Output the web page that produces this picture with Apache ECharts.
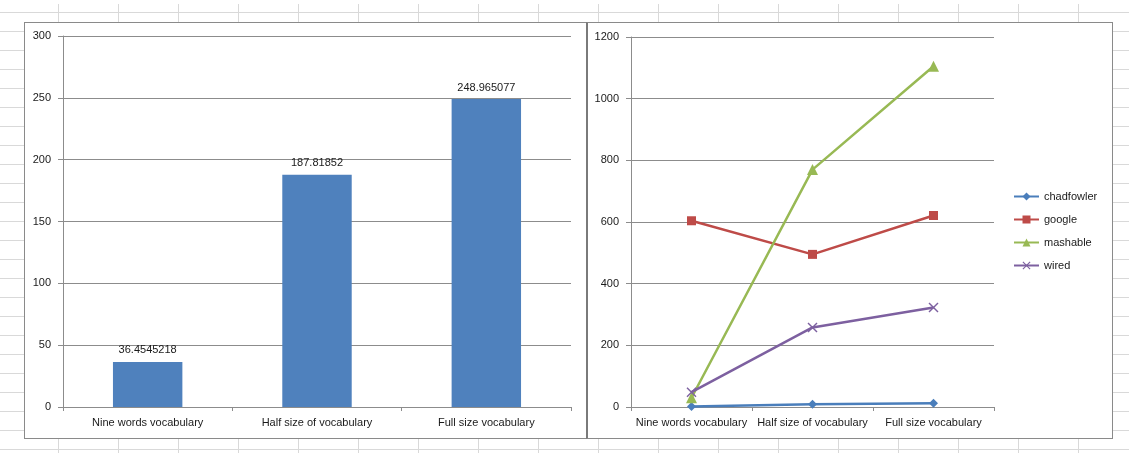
<!DOCTYPE html>
<html>
<head>
<meta charset="utf-8">
<script src="https://cdn.jsdelivr.net/npm/echarts@6/dist/echarts.min.js"></script>
<style>
  html, body { margin: 0; padding: 0; background: #fff; }
  #sheet { position: relative; width: 1129px; height: 453px; overflow: hidden; background: #fff; }
  #cols { position: absolute; left: 0; top: 4px; width: 1129px; height: 449px;
    background-image: linear-gradient(to right, #d9d9d9 1px, transparent 1px);
    background-size: 60px 100%; background-position: 58px 0; background-repeat: repeat-x; }
  #rows { position: absolute; left: 0; top: 12px; width: 1129px; height: 441px;
    background-image: linear-gradient(to bottom, #d9d9d9 1px, transparent 1px);
    background-size: 100% 19px; background-repeat: repeat-y; }
  .box { position: absolute; background: #fff; border: 1px solid #8a8a8a; box-sizing: border-box; }
  #box1 { left: 24px; top: 22px; width: 563px; height: 417px; }
  #box2 { left: 586px; top: 22px; width: 527px; height: 417px; border-left: 2px solid #7a7a7a; }
  #chart { position: absolute; left: 0; top: 0; width: 1129px; height: 453px; }
</style>
</head>
<body>
<div id="sheet">
  <div id="cols"></div>
  <div id="rows"></div>
  <div class="box" id="box1"></div>
  <div class="box" id="box2"></div>
  <div id="chart"></div>
</div>
<script>
// Categories shared by both charts
const categories = ['Nine words vocabulary', 'Half size of vocabulary', 'Full size vocabulary'];

// Left chart: average per vocabulary size
const barValues = [36.4545218, 187.81852, 248.965077];

// Right chart: per-source series
const chadfowler = [2, 9, 12];
const google = [604, 495, 621];
const mashable = [30, 770, 1105];
const wired = [48, 258, 323];

// Value axis ranges
const barAxisMax = 300, barAxisStep = 50;
const lineAxisMax = 1200, lineAxisStep = 200;

const FONT = 'Liberation Sans';
const textColor = '#1a1a1a';
const gridColor = '#8c8c8c';

const crossPath = 'path://M0,1 L1,0 L5,4 L9,0 L10,1 L6,5 L10,9 L9,10 L5,6 L1,10 L0,9 L4,5 Z';

const chart = echarts.init(document.getElementById('chart'), null, { renderer: 'canvas' });

const catAxis = (gridIndex) => ({
  type: 'category',
  gridIndex,
  data: categories,
  boundaryGap: true,
  axisLine: { lineStyle: { color: gridColor, width: 1 } },
  axisTick: { show: true, length: 4, alignWithLabel: false, lineStyle: { color: gridColor } },
  axisLabel: { color: textColor, fontFamily: FONT, fontSize: 11, margin: 10, interval: 0 }
});

const valAxis = (gridIndex, max, step) => ({
  type: 'value',
  gridIndex,
  min: 0,
  max,
  interval: step,
  axisLine: { show: true, lineStyle: { color: gridColor, width: 1 } },
  axisTick: { show: true, length: 5, inside: false, lineStyle: { color: gridColor } },
  axisLabel: { color: textColor, fontFamily: FONT, fontSize: 11, margin: 12, formatter: (v) => String(v) },
  splitLine: { show: true, lineStyle: { color: gridColor, width: 1 } }
});

chart.setOption({
  backgroundColor: 'transparent',
  animation: false,
  grid: [
    { left: 63, top: 36, width: 508, height: 371, containLabel: false },
    { left: 631, top: 37, width: 363, height: 370, containLabel: false }
  ],
  xAxis: [catAxis(0), catAxis(1)],
  yAxis: [valAxis(0, barAxisMax, barAxisStep), valAxis(1, lineAxisMax, lineAxisStep)],
  legend: {
    show: true,
    orient: 'vertical',
    left: 1013,
    top: 191,
    padding: 0,
    itemWidth: 25,
    itemHeight: 10,
    itemGap: 12,
    textStyle: { color: textColor, fontFamily: FONT, fontSize: 11 },
    data: ['chadfowler', 'google', 'mashable', 'wired']
  },
  series: [
    {
      type: 'bar',
      xAxisIndex: 0,
      yAxisIndex: 0,
      data: barValues,
      barWidth: '41%',
      itemStyle: { color: '#4f81bd' },
      label: {
        show: true,
        position: 'top',
        distance: 6,
        color: textColor,
        fontFamily: FONT,
        fontSize: 11,
        formatter: (p) => String(p.value)
      }
    },
    {
      name: 'chadfowler', type: 'line', xAxisIndex: 1, yAxisIndex: 1,
      data: chadfowler, symbol: 'diamond', symbolSize: 9,
      lineStyle: { color: '#4a7ebb', width: 2.5 }, itemStyle: { color: '#4a7ebb' }
    },
    {
      name: 'google', type: 'line', xAxisIndex: 1, yAxisIndex: 1,
      data: google, symbol: 'rect', symbolSize: 9,
      lineStyle: { color: '#be4b48', width: 2.5 }, itemStyle: { color: '#be4b48' }
    },
    {
      name: 'mashable', type: 'line', xAxisIndex: 1, yAxisIndex: 1,
      data: mashable, symbol: 'triangle', symbolSize: 11,
      lineStyle: { color: '#98b954', width: 2.5 }, itemStyle: { color: '#98b954' }
    },
    {
      name: 'wired', type: 'line', xAxisIndex: 1, yAxisIndex: 1,
      data: wired, symbol: crossPath, symbolSize: 10,
      lineStyle: { color: '#7d60a0', width: 2.5 }, itemStyle: { color: '#7d60a0' }
    }
  ]
});
</script>
</body>
</html>
